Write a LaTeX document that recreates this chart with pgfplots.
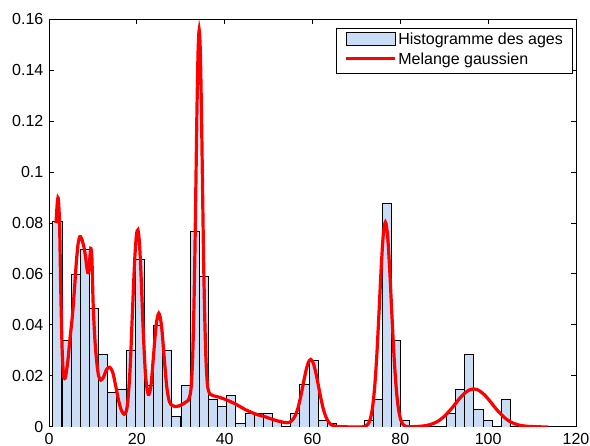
\documentclass[border=0pt]{standalone}
\usepackage{fontspec}
\setmainfont{Liberation Sans}
\usepackage{pgfplots}
\pgfplotsset{compat=1.18}
\definecolor{barfill}{RGB}{202,221,245}
\begin{document}
\begin{tikzpicture}
\begin{axis}[
  scale only axis, width=329.4pt, height=255pt,
  xmin=0, xmax=120, ymin=0, ymax=0.16,
  xtick={0,20,40,60,80,100,120},
  ytick={0,0.02,0.04,0.06,0.08,0.1,0.12,0.14,0.16},
  xtick pos=both, ytick pos=both, tick align=inside,
  major tick length=3.4pt,
  axis line style={line width=0.6pt},
  every tick/.style={black, line width=0.6pt},
  /pgf/number format/assume math mode=true,
  yticklabel style={/pgf/number format/fixed,/pgf/number format/precision=2},
  scaled y ticks=false,
  xticklabel style={yshift=-0.3pt},
  tick label style={font=\fontsize{10}{12}\selectfont},
  legend style={at={(1,1)}, anchor=north east, xshift=-1.9pt, yshift=-5.4pt,
    draw=black, line width=0.6pt, inner xsep=5pt, inner ysep=2pt,
    font=\fontsize{10}{12}\selectfont,
    nodes={inner sep=1pt, text height=7.5pt, text depth=2.5pt},
    row sep=0.5pt},
  legend cell align=left,
]
\addplot[ybar, bar width=2.084, fill=barfill, draw=black, line width=0.5pt,
  legend image code/.code={\draw[fill=barfill,draw=black,line width=0.5pt] (0pt,-3pt) rectangle (30.6pt,5.4pt);}]
coordinates {
(1.90,0.0805) (3.98,0.0341) (6.07,0.0600) (8.15,0.0697) (10.24,0.0465)
(12.32,0.0286) (14.40,0.0136) (16.49,0.0148) (18.57,0.0302) (20.66,0.0658)
(22.74,0.0162) (24.82,0.0397) (26.91,0.0302) (28.99,0.0040) (31.08,0.0163)
(33.16,0.0767) (35.24,0.0590) (37.33,0.0110) (39.41,0.0082) (41.50,0.0123)
(43.58,0.0014) (45.66,0.0054) (47.75,0.0054) (49.83,0.0054) (51.92,0.0026)
(56.08,0.0054) (58.17,0.0165) (60.25,0.0260) (62.34,0.0027) (64.42,0.0014)
(72.76,0.0027) (74.84,0.0109) (76.92,0.0875) (79.01,0.0341) (81.09,0.0027)
(91.51,0.0054) (93.60,0.0149) (95.68,0.0286) (97.76,0.0067) (99.85,0.0027)
(104.02,0.0109)
};
\addlegendentry{Histogramme des ages}
\addplot[red, line width=2pt, smooth, tension=0.5,
  legend image code/.code={\draw[red,line width=2pt] (0pt,1.5pt) -- (30.6pt,1.5pt);}]
coordinates {
(1.6,0.080) (1.85,0.087) (2.1,0.0897) (2.4,0.080) (2.7,0.052) (3.0,0.030)
(3.3,0.0205) (3.55,0.019) (3.8,0.020) (4.3,0.026) (4.8,0.035) (5.3,0.043)
(5.8,0.054) (6.2,0.064) (6.6,0.0715) (7.0,0.0746) (7.4,0.074) (7.9,0.071)
(8.3,0.067) (8.7,0.0615) (8.95,0.0605) (9.2,0.064) (9.5,0.070) (9.75,0.067)
(9.9,0.058) (10.1,0.046) (10.5,0.033) (10.9,0.025) (11.3,0.020) (11.8,0.0184)
(12.4,0.0195) (13.1,0.0225) (13.8,0.0234) (14.5,0.0215) (15.2,0.016)
(15.9,0.010) (16.5,0.0065) (17.1,0.0050) (17.6,0.0062) (18.0,0.011)
(18.5,0.024) (19.0,0.045) (19.5,0.065) (19.9,0.075) (20.25,0.0773)
(20.6,0.072) (21.0,0.058) (21.5,0.036) (22.0,0.020) (22.6,0.0128)
(23.2,0.016) (23.8,0.028) (24.4,0.040) (25.0,0.0446) (25.6,0.040)
(26.2,0.028) (26.8,0.016) (27.4,0.010) (28.0,0.0085) (28.7,0.008)
(29.5,0.0082) (30.5,0.0090) (31.2,0.0098) (31.7,0.0104) (32.2,0.0131)
(32.45,0.0176) (32.7,0.0265) (32.95,0.0427) (33.2,0.0657) (33.45,0.0952)
(33.7,0.125) (33.95,0.1474) (34.2,0.1557) (34.45,0.1475) (34.7,0.1255)
(34.95,0.0955) (35.2,0.066) (35.45,0.0442) (35.7,0.0285) (35.95,0.0196)
(36.2,0.0150) (36.7,0.0128) (37.5,0.0122) (38.5,0.0118) (40,0.0109)
(41.5,0.0098) (43,0.0085) (44.6,0.0069) (46,0.0058) (47.5,0.0048)
(49.2,0.0040) (50.5,0.0032) (52,0.0024) (53.5,0.0018) (54.6,0.0017)
(55.1,0.0022) (55.6,0.0031) (56.1,0.0046) (56.6,0.0069) (57.1,0.0103)
(57.6,0.0143) (58.1,0.0187) (58.6,0.0227) (59.1,0.0255) (59.6,0.0265)
(60.1,0.0254) (60.6,0.0224) (61.1,0.0184) (61.6,0.0139) (62.1,0.0097)
(62.6,0.0062) (63.1,0.0038) (63.6,0.0021) (64.1,0.0011) (64.6,0.0006)
(65.6,0.0002) (67,0.0001) (69,0.0) (71.1,0.0) (71.6,0.0001) (72.1,0.0003)
(72.6,0.0010) (73.1,0.0028) (73.6,0.0068) (74.1,0.0145) (74.6,0.0268)
(75.1,0.0433) (75.6,0.0610) (76.1,0.0750) (76.6,0.0803) (77.1,0.0750)
(77.6,0.0610) (78.1,0.0433) (78.6,0.0268) (79.1,0.0145) (79.6,0.0068)
(80.1,0.0028) (80.6,0.0010) (81.1,0.0003) (81.6,0.0001) (82.7,0.0001)
(84.7,0.0003) (85.7,0.0005) (86.7,0.0009) (87.7,0.0015) (88.7,0.0024)
(89.7,0.0037) (90.7,0.0054) (91.7,0.0073) (92.7,0.0095) (93.7,0.0116)
(94.7,0.0133) (95.7,0.0145) (96.7,0.0149) (97.7,0.0145) (98.7,0.0133)
(99.7,0.0116) (100.7,0.0095) (101.7,0.0073) (102.7,0.0054) (103.7,0.0037)
(104.7,0.0024) (105.7,0.0015) (106.7,0.0009) (107.7,0.0005) (108.7,0.0003)
(110.7,0.0001) (113.7,0.0)
};
\addlegendentry{Melange gaussien}
\end{axis}
\pgfresetboundingbox
\path[use as bounding box] (current axis.south west) ++(-30.625pt,-11.875pt) rectangle ([xshift=8.75pt,yshift=11.875pt]current axis.north east);
\end{tikzpicture}
\end{document}
